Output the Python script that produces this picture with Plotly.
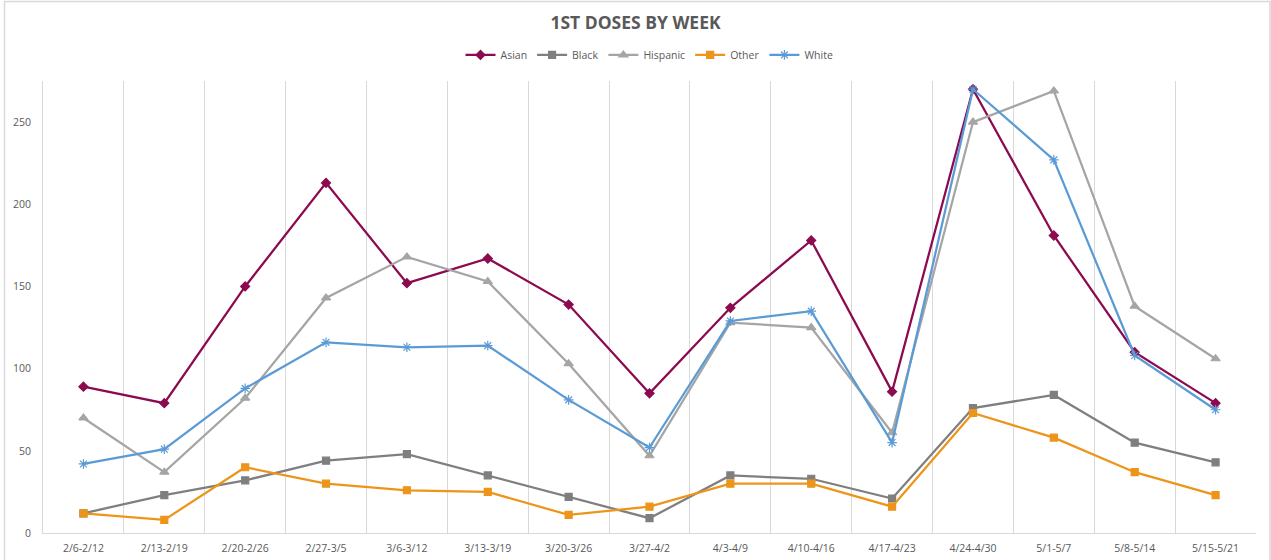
import plotly.graph_objects as go

weeks = ["2/6-2/12", "2/13-2/19", "2/20-2/26", "2/27-3/5", "3/6-3/12", "3/13-3/19",
         "3/20-3/26", "3/27-4/2", "4/3-4/9", "4/10-4/16", "4/17-4/23", "4/24-4/30",
         "5/1-5/7", "5/8-5/14", "5/15-5/21"]

asian = [89, 79, 150, 213, 152, 167, 139, 85, 137, 178, 86, 270, 181, 110, 79]
black = [12, 23, 32, 44, 48, 35, 22, 9, 35, 33, 21, 76, 84, 55, 43]
hispanic = [70, 37, 82, 143, 168, 153, 103, 47, 128, 125, 61, 250, 269, 138, 106]
other = [12, 8, 40, 30, 26, 25, 11, 16, 30, 30, 16, 73, 58, 37, 23]
white = [42, 51, 88, 116, 113, 114, 81, 52, 129, 135, 55, 270, 227, 108, 75]

y_ticks = [0, 50, 100, 150, 200, 250]

series = [
    ("Asian", asian, "#8C0A4F", "diamond", 7),
    ("Black", black, "#7F7F7F", "square", 7),
    ("Hispanic", hispanic, "#A5A5A5", "triangle-up", 8),
    ("Other", other, "#ED951A", "square", 7),
    ("White", white, "#5B9BD5", "asterisk-open", 8),
]

fig = go.Figure()
for name, vals, color, sym, sz in series:
    fig.add_trace(go.Scatter(
        x=weeks, y=vals, name=name, mode="lines+markers",
        line=dict(color=color, width=2.25),
        marker=dict(symbol=sym, size=sz, color=color,
                    line=dict(color=color, width=1.2)),
    ))

PW, PH = 1213, 452

fig.update_layout(
    width=1271, height=560,
    margin=dict(l=43, r=15, t=81, b=27, autoexpand=False),
    paper_bgcolor="white", plot_bgcolor="white",
    font=dict(family="Open Sans, Liberation Sans, sans-serif", color="#595959", size=10),
    title=dict(text="<b>1ST DOSES BY WEEK</b>", x=0.5, xanchor="center",
               yref="container", y=0.959, yanchor="middle",
               font=dict(size=17.5, color="#595959", family="Open Sans, sans-serif")),
    legend=dict(orientation="h", x=0.5, xanchor="center",
                yref="container", y=0.902, yanchor="middle",
                font=dict(size=10.5, color="#595959"), itemwidth=30,
                bgcolor="rgba(0,0,0,0)"),
    showlegend=True,
)

fig.update_xaxes(
    type="category", range=[-0.5, len(weeks) - 0.5], tickson="boundaries",
    showgrid=True, gridcolor="#D9D9D9",
    gridwidth=1, showline=True, linecolor="#D9D9D9", linewidth=1,
    ticks="", tickfont=dict(size=10.5, color="#595959"), ticklabelstandoff=5,
    zeroline=False, mirror=False,
)
fig.update_yaxes(
    range=[0, 275], tickvals=y_ticks, showgrid=False, zeroline=False,
    showline=True, linecolor="#D9D9D9", linewidth=1, ticks="",
    tickfont=dict(size=10.5, color="#595959"), ticklabelstandoff=9,
)

# outer chart border
fig.add_shape(type="rect", xref="paper", yref="paper",
              x0=(4.5 - 43) / PW, x1=(1270 - 43) / PW,
              y0=(533 - 565) / PH, y1=(533 - 1.5) / PH,
              line=dict(color="#D9D9D9", width=1.5), fillcolor="rgba(0,0,0,0)")

fig.write_html("out.html", config={"displayModeBar": False},
               post_script="document.body.style.margin='0';document.body.style.overflow='hidden';")
